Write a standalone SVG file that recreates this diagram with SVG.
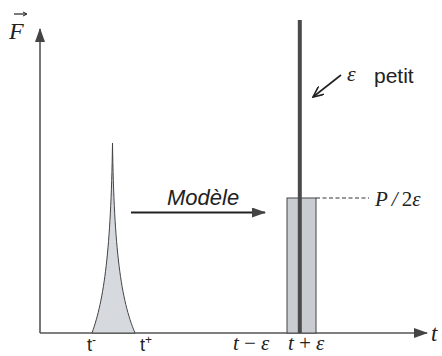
<svg xmlns="http://www.w3.org/2000/svg" width="442" height="356" viewBox="0 0 442 356">
<style>
.ax{stroke:#555;stroke-width:1.6;fill:none}
.math{font-family:"Liberation Serif","Times New Roman",serif;font-style:italic;fill:#222}
.sans{font-family:"Liberation Sans",Arial,sans-serif;fill:#222}
</style>
<defs>
<marker id="ah" markerWidth="14" markerHeight="10" refX="13" refY="5" orient="auto" markerUnits="userSpaceOnUse">
<path d="M0,0 L14,5 L0,10 Z" fill="#444"/>
</marker>
<marker id="ahs" markerWidth="12" markerHeight="10" refX="11" refY="5" orient="auto" markerUnits="userSpaceOnUse">
<path d="M0,0 L11,5 L0,10" fill="none" stroke="#222" stroke-width="1.6"/>
</marker>
</defs>
<rect width="442" height="356" fill="#fff"/>
<g id="connectors">
<line id="yaxis" class="ax" x1="40" y1="333" x2="40" y2="29" marker-end="url(#ah)"/>
<line id="xaxis" class="ax" x1="40" y1="333" x2="427" y2="333" marker-end="url(#ah)"/>
<line id="modele-arrow" x1="131" y1="212.5" x2="265" y2="212.5" stroke="#222" stroke-width="2" marker-end="url(#ah)"/>
<line id="eps-arrow" x1="341" y1="75" x2="313" y2="97" stroke="#222" stroke-width="1.6" marker-end="url(#ahs)"/>
<line id="level" x1="316" y1="198" x2="369" y2="198" stroke="#333" stroke-width="1" stroke-dasharray="4,2.5"/>
</g>
<g id="F-label">
<text class="math" x="9" y="39" font-size="24">F</text>
<line x1="14" y1="14" x2="26" y2="14" stroke="#222" stroke-width="1.2"/>
<path d="M23,12 L27,14 L23,16" fill="none" stroke="#222" stroke-width="1"/>
</g>
<g id="spike">
<path d="M92,333 C104,300 111,250 112.5,143 C114,250 121,300 135,333 Z" fill="#d6dade" stroke="#444" stroke-width="1"/>
</g>
<g id="model-pulse">
<rect x="287" y="198" width="29" height="135" fill="#c9cdd1" stroke="#444" stroke-width="1"/>
<rect x="297.8" y="20" width="4" height="313" fill="#4a4a4a"/>
</g>
<g id="modele-label">
<text class="sans" x="167" y="205" font-size="22" font-style="italic">Modèle</text>
</g>
<g id="eps-label">
<text class="math" x="347" y="81" font-size="22">ε</text>
<text class="sans" x="374" y="83" font-size="21">petit</text>
</g>
<g id="P-label">
<text class="math" x="375" y="206" font-size="21">P<tspan dx="4">/</tspan><tspan dx="4" font-style="normal">2</tspan>ε</text>
</g>
<g id="tick-labels">
<text class="sans" x="87" y="351" font-size="18">t<tspan dy="-7" font-size="12">-</tspan></text>
<text class="sans" x="140" y="351" font-size="18">t<tspan dy="-7" font-size="12">+</tspan></text>
<text class="math" x="233" y="350" font-size="21">t<tspan dx="4">−</tspan><tspan dx="4">ε</tspan></text>
<text class="math" x="288" y="350" font-size="21">t<tspan dx="4">+</tspan><tspan dx="4">ε</tspan></text>
<text class="math" x="431" y="341" font-size="23">t</text>
</g>
</svg>
